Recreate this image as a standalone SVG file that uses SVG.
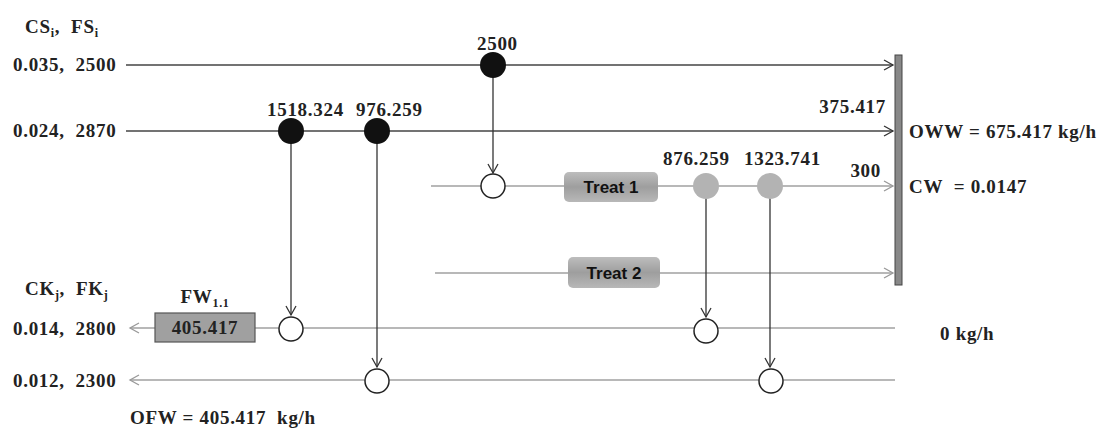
<svg xmlns="http://www.w3.org/2000/svg" width="1100" height="431" viewBox="0 0 1100 431" xml:space="preserve">
<defs>
<marker id="arrD" markerWidth="12" markerHeight="12" refX="10" refY="6" orient="auto" markerUnits="userSpaceOnUse">
<path d="M1,1 L10,6 L1,11" fill="none" stroke="#333" stroke-width="1.3"/>
</marker>
<marker id="arrG" markerWidth="12" markerHeight="12" refX="10" refY="6" orient="auto" markerUnits="userSpaceOnUse">
<path d="M1,1 L10,6 L1,11" fill="none" stroke="#999" stroke-width="1.3"/>
</marker>
<linearGradient id="tg" x1="0" y1="0" x2="0" y2="1">
<stop offset="0" stop-color="#bdbdbd"/>
<stop offset="0.5" stop-color="#9e9e9e"/>
<stop offset="1" stop-color="#b8b8b8"/>
</linearGradient>
</defs>
<style>
.t{font-family:"Liberation Serif","Times New Roman",serif;font-weight:bold;font-size:19px;fill:#222;letter-spacing:0.7px;white-space:pre;}
.s{font-family:"Liberation Sans",Arial,sans-serif;font-weight:bold;font-size:17px;fill:#111;}
.dk{stroke:#444;stroke-width:1.6;fill:none;}
.lt{stroke:#a0a0a0;stroke-width:1.6;fill:none;}
.v{stroke:#333;stroke-width:1.3;fill:none;}
.open{fill:#fff;stroke:#222;stroke-width:1.5;}
.blk{fill:#111;}
.gry{fill:#b3b3b3;}
</style>
<rect width="1100" height="431" fill="#fff"/>

<g id="connectors">
<line class="dk" x1="126" y1="65" x2="893" y2="65" marker-end="url(#arrD)"/>
<line class="dk" x1="126" y1="131" x2="893" y2="131" marker-end="url(#arrD)"/>
<line class="lt" x1="431" y1="186" x2="893" y2="186" marker-end="url(#arrG)"/>
<line class="lt" x1="435" y1="273" x2="893" y2="273" marker-end="url(#arrG)"/>
<line class="lt" x1="895" y1="328" x2="130" y2="328" marker-end="url(#arrG)"/>
<line class="lt" x1="895" y1="380" x2="130" y2="380" marker-end="url(#arrG)"/>
<line class="v" x1="291" y1="131" x2="291" y2="315" marker-end="url(#arrD)"/>
<line class="v" x1="377" y1="131" x2="377" y2="367" marker-end="url(#arrD)"/>
<line class="v" x1="493" y1="65" x2="493" y2="173" marker-end="url(#arrD)"/>
<line class="v" x1="706" y1="186" x2="706" y2="317" marker-end="url(#arrD)"/>
<line class="v" x1="770" y1="186" x2="770" y2="367" marker-end="url(#arrD)"/>
</g>

<g id="bar"><rect x="895" y="55" width="7" height="230" fill="#888" stroke="#444" stroke-width="1"/></g>

<g id="n1518"><circle class="blk" cx="291" cy="131" r="13"/><text class="t" x="267" y="116">1518.324</text></g>
<g id="n976"><circle class="blk" cx="377" cy="131" r="13"/><text class="t" x="356" y="116">976.259</text></g>
<g id="n2500"><circle class="blk" cx="493" cy="65" r="13"/><text class="t" x="477" y="50">2500</text></g>
<g id="mix1"><circle class="open" cx="493" cy="186" r="12"/></g>
<g id="treat1"><rect x="564" y="172" width="94" height="30" rx="5" fill="url(#tg)"/><text class="s" x="611" y="193" text-anchor="middle">Treat 1</text></g>
<g id="treat2"><rect x="568" y="257" width="92" height="31" rx="5" fill="url(#tg)"/><text class="s" x="614" y="279" text-anchor="middle">Treat 2</text></g>
<g id="n876"><circle class="gry" cx="706" cy="186" r="13"/><text class="t" x="663" y="165">876.259</text></g>
<g id="n1323"><circle class="gry" cx="770" cy="186" r="13"/><text class="t" x="744" y="165">1323.741</text></g>
<g id="k1a"><circle class="open" cx="291" cy="329" r="12"/></g>
<g id="k2a"><circle class="open" cx="377" cy="381" r="12"/></g>
<g id="k1b"><circle class="open" cx="706" cy="331" r="12"/></g>
<g id="k2b"><circle class="open" cx="771" cy="381" r="12"/></g>
<g id="fw"><rect x="155" y="313" width="100" height="29" fill="#a0a0a0" stroke="#555" stroke-width="1.2"/><text class="t" x="205" y="334" text-anchor="middle">405.417</text>
<text class="t" x="205" y="303" text-anchor="middle">FW<tspan font-size="12" dy="4">1.1</tspan></text></g>

<g id="labels">
<text class="t" x="25" y="33">CS<tspan font-size="12" dy="4">i</tspan><tspan dy="-4">,  FS</tspan><tspan font-size="12" dy="4">i</tspan></text>
<text class="t" x="13" y="71">0.035,  2500</text>
<text class="t" x="13" y="137">0.024,  2870</text>
<text class="t" x="25" y="295">CK<tspan font-size="12" dy="4">j</tspan><tspan dy="-4">,  FK</tspan><tspan font-size="12" dy="4">j</tspan></text>
<text class="t" x="13" y="335">0.014,  2800</text>
<text class="t" x="13" y="387">0.012,  2300</text>
<text class="t" x="130" y="424">OFW = 405.417  kg/h</text>
<text class="t" x="886" y="113" text-anchor="end">375.417</text>
<text class="t" x="881" y="177" text-anchor="end">300</text>
<text class="t" x="909" y="138">OWW = 675.417 kg/h</text>
<text class="t" x="909" y="193">CW  = 0.0147</text>
<text class="t" x="940" y="340">0 kg/h</text>
</g>
</svg>
